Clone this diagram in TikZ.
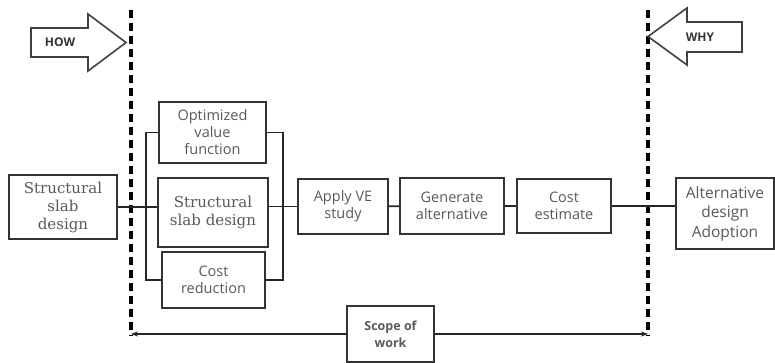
\documentclass[tikz,border=0pt]{standalone}
\usepackage{fontspec}
\setmainfont{DejaVu Serif}
\setsansfont{Open Sans}
\usetikzlibrary{arrows.meta}

\begin{document}
\begin{tikzpicture}[x=1pt,y=-1pt,
    box/.style={draw=black!80, line width=1.7pt, inner sep=0pt, align=center, text=black!65,
      font=\sffamily\fontsize{14.5}{17}\selectfont},
    serifbox/.style={box, font=\rmfamily\fontsize{15}{18}\selectfont},
    link/.style={draw=black!85, line width=1.7pt},
    scopeline/.style={draw=black, line width=3.5pt, dash pattern=on 8pt off 5pt},
    bigarrow/.style={draw=black!75, line width=1.6pt, line join=miter},
    tag/.style={text=black!80, font=\sffamily\bfseries\fontsize{12}{13}\selectfont}]
  \useasboundingbox (0,0) rectangle (775,362);

  % scope limits
  \coordinate (ltop) at (131,10);
  \coordinate (lbot) at (131,336);
  \coordinate (rtop) at (648,10);
  \coordinate (rbot) at (648,336);
  \draw[scopeline] (ltop) -- (lbot);
  \draw[scopeline] (rtop) -- (rbot);

  % how / why
  \draw[bigarrow] (31,28) -- (88,28) -- (88,14) -- (126,42.5) -- (88,71) -- (88,57) -- (31,57) -- cycle;
  \node[tag] (how) at (60,42.5) {HOW};
  \draw[bigarrow] (742,22) -- (687,22) -- (687,8) -- (648,36.5) -- (687,65) -- (687,52) -- (742,52) -- cycle;
  \node[tag] (why) at (700,37) {WHY};

  % boxes
  \node[serifbox, minimum width=108, minimum height=64] (slab) at (63,207) {Structural\\slab\\design};
  \node[box, minimum width=107, minimum height=61] (optim) at (212.5,132.5) {Optimized\\value\\function};
  \node[serifbox, minimum width=110, minimum height=69] (design) at (213,212.5) {Structural\\slab design};
  \node[box, minimum width=103, minimum height=56] (reduce) at (213.5,280) {Cost\\reduction};
  \node[box, minimum width=90, minimum height=55] (apply) at (343,206.5) {Apply VE\\study};
  \node[box, minimum width=104, minimum height=56] (generate) at (452,206) {Generate\\alternative};
  \node[box, minimum width=94, minimum height=54] (estimate) at (564,206) {Cost\\estimate};
  \node[box, minimum width=98, minimum height=71, font=\sffamily\fontsize{15.5}{19.5}\selectfont] (adopt) at (725,213.5) {Alternative\\design\\Adoption};
  \node[box, minimum width=87, minimum height=56, font=\sffamily\bfseries\fontsize{12.5}{17}\selectfont] (scope) at (390.5,334) {Scope of\\work};

  % links
  \draw[link] (slab.east) -- (slab.east -| design.west);
  \draw[link] (optim.west) -- ++(-12,0) |- (reduce.west);
  \draw[link] (optim.east) -- ++(16,0) |- (reduce.east);
  \draw[link] (design.east |- apply.west) -- (apply.west);
  \draw[link] (apply) -- (generate);
  \draw[link] (generate) -- (estimate);
  \draw[link] (estimate.east) -- (estimate.east -| adopt.west);
  \draw[link, -{Stealth[length=7pt,width=5pt]}] (scope.west) -- (scope.west -| lbot);
  \draw[link, -{Stealth[length=7pt,width=5pt]}] (scope.east) -- (scope.east -| rbot);
\end{tikzpicture}
\end{document}
